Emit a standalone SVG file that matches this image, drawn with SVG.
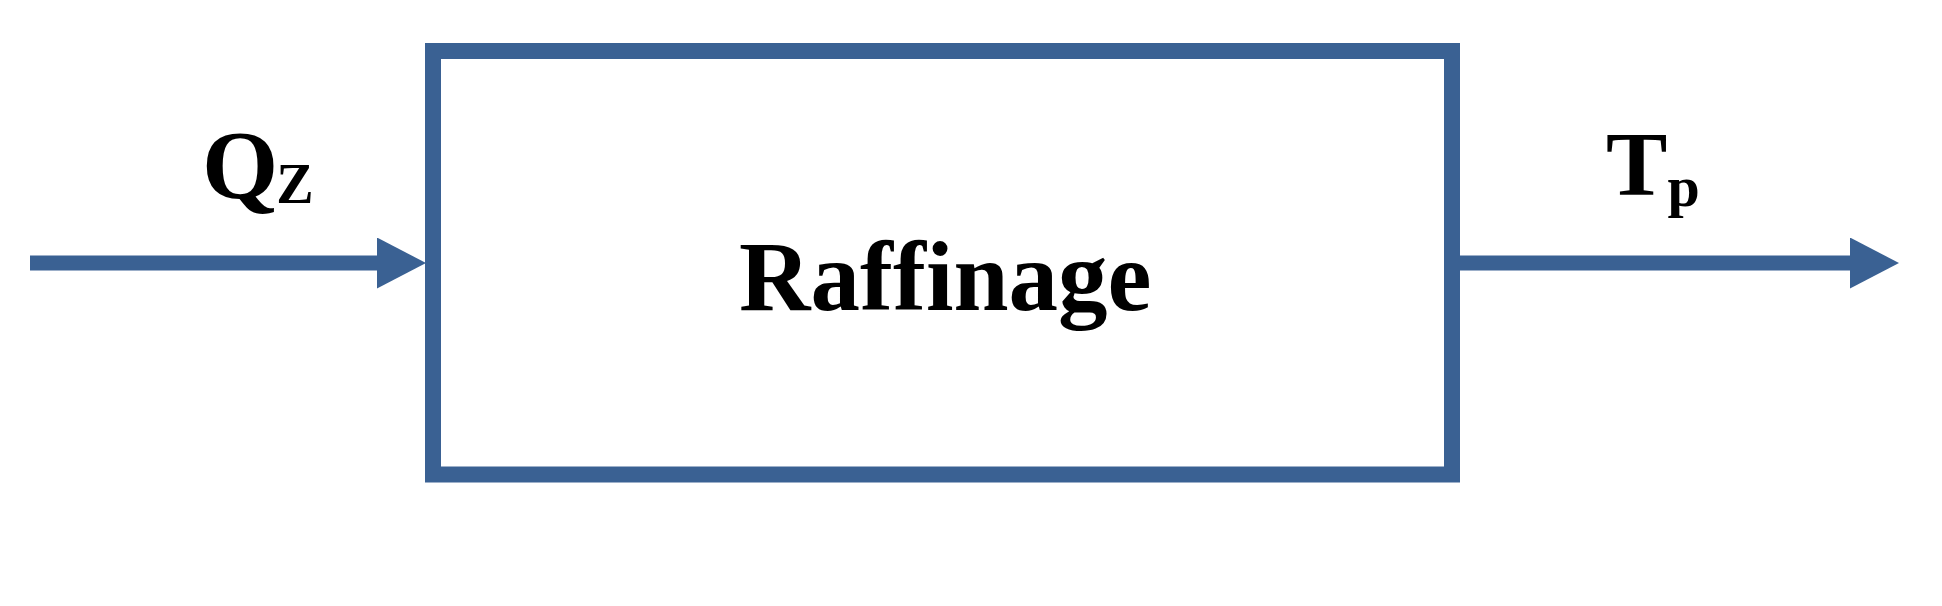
<svg xmlns="http://www.w3.org/2000/svg" width="1942" height="606" viewBox="0 0 1942 606">
<style>
.edge{stroke:#3A6193;stroke-width:15;fill:none}
.box{stroke:#3A6193;stroke-width:16;fill:#ffffff}
.lbl{font-family:'Liberation Serif','DejaVu Serif',serif;font-weight:bold;fill:#000000}
</style>
<defs>
<marker id="arrow" markerUnits="userSpaceOnUse" markerWidth="50" markerHeight="52" refX="0" refY="25.5" orient="auto" viewBox="0 0 50 52">
<path d="M0,0 L49,25.5 L0,51 z" fill="#3A6193"/>
</marker>
</defs>
<rect width="1942" height="606" fill="#ffffff"/>
<g id="raffinage">
<rect class="box" x="433" y="51" width="1019" height="423.5"/>
<text class="lbl" x="739" y="310" font-size="99">Raffinage</text>
</g>
<g id="connectors">
<line class="edge" x1="30" y1="263" x2="377" y2="263" marker-end="url(#arrow)"/>
<line class="edge" x1="1459" y1="263" x2="1850" y2="263" marker-end="url(#arrow)"/>
</g>
<g id="label-qz">
<text class="lbl" x="202" y="198" font-size="98">Q<tspan font-size="56" dx="-2" dy="5">Z</tspan></text>
</g>
<g id="label-tp">
<text class="lbl" x="1606" y="195" font-size="92">T<tspan font-size="58" dy="11">p</tspan></text>
</g>
</svg>
